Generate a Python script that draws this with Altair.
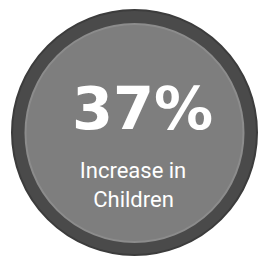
import altair as alt
import pandas as pd

headline = ["37%"]
label_lines = ["Increase in", "Children"]

W, H = 250, 249

base = alt.Chart(pd.DataFrame({"k": [0]}))

outer = base.mark_point(filled=True, shape="circle", opacity=1, color="#4a4a4a",
                        stroke="#3c3c3c", strokeWidth=2).encode(
    x=alt.value(126.5), y=alt.value(124.5), size=alt.value(245 * 245))
inner = base.mark_point(filled=True, shape="circle", opacity=1, color="#7e7e7e",
                        stroke="#8c8c8c", strokeWidth=2).encode(
    x=alt.value(126.5), y=alt.value(125), size=alt.value(218 * 218))

head_df = pd.DataFrame({"t": headline})
head = alt.Chart(head_df).mark_text(font="DejaVu Sans", fontWeight="bold", fontSize=59,
                                    color="white", align="center", baseline="alphabetic").encode(
    text="t:N", x=alt.value(134.5), y=alt.value(121))

lab_df = pd.DataFrame({"t": label_lines, "i": [0, 1]})
lab1 = alt.Chart(lab_df).transform_filter("datum.i == 0").mark_text(
    font="Roboto", fontSize=22, color="white", align="center", baseline="alphabetic").encode(
    text="t:N", x=alt.value(125), y=alt.value(170))
lab2 = alt.Chart(lab_df).transform_filter("datum.i == 1").mark_text(
    font="Roboto", fontSize=22, color="white", align="center", baseline="alphabetic").encode(
    text="t:N", x=alt.value(125.5), y=alt.value(199))

chart = alt.layer(outer, inner, head, lab1, lab2).properties(
    width=W, height=H, autosize=alt.AutoSizeParams(type="none"), padding=0,
    background="white"
).configure_view(stroke=None)

chart.save("out.html", embed_options={"renderer": "svg", "actions": False})
